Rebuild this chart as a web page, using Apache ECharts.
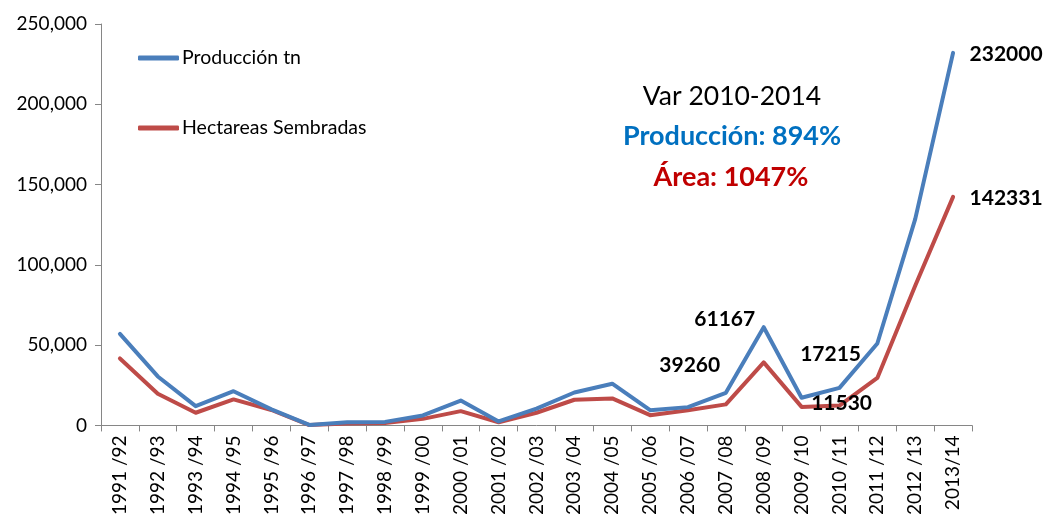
<!DOCTYPE html>
<html>
<head>
<meta charset="utf-8">
<script src="https://cdn.jsdelivr.net/npm/echarts@6/dist/echarts.min.js"></script>
<style>
  html, body { margin: 0; padding: 0; background: #fff; }
  #chart { width: 1043px; height: 518px; }
</style>
</head>
<body>
<div id="chart"></div>
<script>
const campaigns = [
  "1991 /92", "1992 /93", "1993 /94", "1994 /95", "1995 /96", "1996 /97",
  "1997 /98", "1998 /99", "1999 /00", "2000 /01", "2001 /02", "2002 /03",
  "2003 /04", "2004 /05", "2005 /06", "2006 /07", "2007 /08", "2008 /09",
  "2009 /10", "2010 /11", "2011 /12", "2012 /13", "2013/14"
];
const produccion = [
  57000, 30500, 12000, 21300, 10000, 300, 2000, 2200, 6200, 15500, 2500, 10500,
  20500, 26000, 9500, 11400, 20300, 61167, 17215, 23400, 51000, 128500, 232000
];
const hectareas = [
  41700, 19700, 7900, 16200, 9600, 200, 1200, 1500, 4100, 8900, 2000, 7900,
  16000, 16800, 6400, 9500, 13100, 39260, 11530, 12400, 29600, 87000, 142331
];
const yTicks = [0, 50000, 100000, 150000, 200000, 250000];

// label placement for the values written on the chart: index -> [dx, dy]
const prodLabels = { 17: [-39, -8], 18: [29, -44], 22: [53, 1] };
const hectLabels = { 17: [-74, 3], 18: [40, -4], 22: [53, 1] };

const FONT = "Lato, 'Open Sans', sans-serif";
const BLUE = "#4A7EBB";
const RED = "#BE4B48";

function withLabels(values, labels) {
  return values.map((v, i) => {
    const off = labels[i];
    if (!off) return v;
    return {
      value: v,
      label: {
        show: true,
        position: "inside",
        offset: off,
        formatter: String(v),
        fontFamily: FONT,
        fontWeight: "bold",
        fontSize: 21,
        color: "#000"
      }
    };
  });
}

const chart = echarts.init(document.getElementById("chart"));

chart.setOption({
  animation: false,
  backgroundColor: "#fff",
  grid: { left: 101, right: 71, top: 24, bottom: 92 },
  legend: {
    orient: "vertical",
    left: 133,
    top: 43,
    itemGap: 50,
    itemWidth: 41,
    itemHeight: 5,
    icon: "roundRect",
    textStyle: { fontFamily: FONT, fontSize: 19.5, color: "#000", padding: [0, 0, 0, -2] },
    data: ["Producción tn", "Hectareas Sembradas"]
  },
  xAxis: {
    type: "category",
    data: campaigns,
    boundaryGap: true,
    axisLine: { lineStyle: { color: "#868686", width: 1 } },
    axisTick: { show: true, length: 6, lineStyle: { color: "#868686" } },
    axisLabel: {
      rotate: 90,
      interval: 0,
      margin: 10,
      fontFamily: FONT,
      fontSize: 19,
      color: "#000"
    }
  },
  yAxis: {
    type: "value",
    min: 0,
    max: 250000,
    interval: 50000,
    splitLine: { show: false },
    axisLine: { show: true, lineStyle: { color: "#868686", width: 1 } },
    axisTick: { show: true, length: 6, lineStyle: { color: "#868686" } },
    axisLabel: {
      margin: 14,
      fontFamily: FONT,
      fontSize: 19,
      color: "#000",
      formatter: (v) => yTicks.includes(v) ? v.toLocaleString("en-US") : ""
    }
  },
  series: [
    {
      name: "Producción tn",
      type: "line",
      data: withLabels(produccion, prodLabels),
      symbol: "circle",
      symbolSize: 0,
      showSymbol: true,
      color: BLUE,
      lineStyle: { color: BLUE, width: 4, cap: "round", join: "round" },
      z: 3
    },
    {
      name: "Hectareas Sembradas",
      type: "line",
      data: withLabels(hectareas, hectLabels),
      symbol: "circle",
      symbolSize: 0,
      showSymbol: true,
      color: RED,
      lineStyle: { color: RED, width: 4, cap: "round", join: "round" },
      z: 2
    }
  ],
  graphic: [
    {
      type: "text", x: 732, y: 96,
      style: { text: "Var 2010-2014", font: "26.5px " + FONT, fill: "#000", align: "center", verticalAlign: "middle" }
    },
    {
      type: "text", x: 732, y: 136,
      style: { text: "Producción: 894%", font: "bold 27px " + FONT, fill: "#0070C0", align: "center", verticalAlign: "middle" }
    },
    {
      type: "text", x: 731, y: 177,
      style: { text: "Área: 1047%", font: "bold 27px " + FONT, fill: "#C00000", align: "center", verticalAlign: "middle" }
    }
  ]
});
</script>
</body>
</html>
